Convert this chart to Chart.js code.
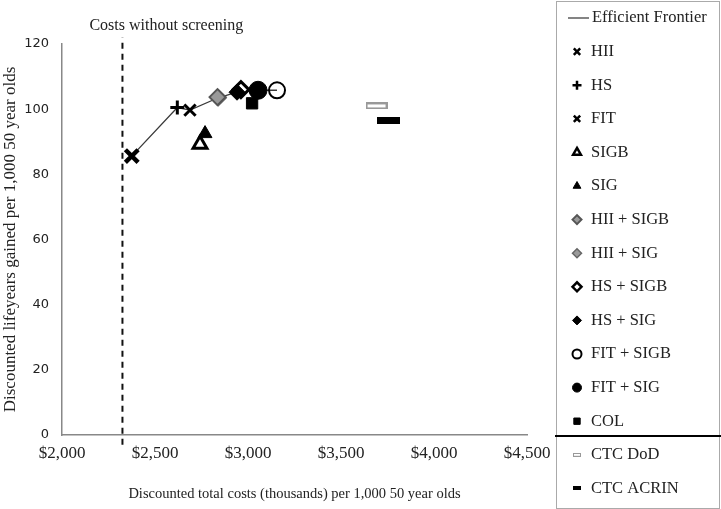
<!DOCTYPE html>
<html>
<head>
<meta charset="utf-8">
<script src="https://cdn.jsdelivr.net/npm/chart.js@4/dist/chart.umd.min.js"></script>
<style>
  html, body { margin: 0; padding: 0; background: #fff; }
  #wrap { width: 721px; height: 509px; }
</style>
</head>
<body>
<div id="wrap"><canvas id="cea"></canvas></div>
<script>
// strategies, costs (thousands $) and discounted life-years gained per 1,000 50 year olds
const strategies = ['HII', 'HS', 'FIT', 'SIGB', 'SIG', 'HII + SIGB', 'HII + SIG', 'HS + SIGB', 'HS + SIG', 'FIT + SIGB', 'FIT + SIG', 'COL', 'CTC DoD', 'CTC ACRIN'];
const costs = [2375, 2620, 2688, 2742, 2769, 2836, 2840, 2962, 2941, 3156, 3054, 3022, 3691, 3758];
const lifeyears = [85.6, 100.5, 99.7, 89.2, 92.5, 103.7, 103.5, 106, 105.2, 105.8, 105.8, 101.8, 101, 96.5];

// efficient frontier (strategy names, in order)
const frontier = ['HII', 'HS', 'FIT', 'HII + SIG', 'HS + SIG', 'FIT + SIG', 'FIT + SIGB'];

const costsWithoutScreening = 2325;
const xTicks = [2000, 2500, 3000, 3500, 4000, 4500];
const yTicks = [0, 20, 40, 60, 80, 100, 120];

// little canvases for the CTC dash markers
function dashImg(w, h, fill, stroke) {
    const c = document.createElement('canvas');
    c.width = w; c.height = h;
    const g = c.getContext('2d');
    g.fillStyle = fill;
    g.fillRect(0, 0, w, h);
    if (stroke) {
        g.strokeStyle = stroke;
        g.lineWidth = 2;
        g.strokeRect(1, 1, w - 2, h - 2);
    }
    return c;
}

// order: lower = drawn on top
const markerStyle = {
    'HII':        { pointStyle: 'crossRot', radius: 9, bg: '#000', border: '#000', bw: 4.5, order: 1 },
    'HS':         { pointStyle: 'cross', radius: 7, bg: '#000', border: '#000', bw: 3, order: 2 },
    'FIT':        { pointStyle: 'crossRot', radius: 8, bg: '#000', border: '#000', bw: 3, order: 1 },
    'SIGB':       { pointStyle: 'triangle', radius: 8, bg: '#fff', border: '#000', bw: 3, order: 2 },
    'SIG':        { pointStyle: 'triangle', radius: 8, bg: '#000', border: '#000', bw: 1, order: 3 },
    'HII + SIGB': { pointStyle: 'rectRot', radius: 8, bg: '#999', border: '#555', bw: 2, order: 2 },
    'HII + SIG':  { pointStyle: 'rectRot', radius: 8, bg: '#9a9a9a', border: '#666', bw: 1.5, order: 3 },
    'HS + SIGB':  { pointStyle: 'rectRot', radius: 8, bg: '#fff', border: '#000', bw: 3, order: 5 },
    'HS + SIG':   { pointStyle: 'rectRot', radius: 8, bg: '#000', border: '#000', bw: 1, order: 4 },
    'FIT + SIGB': { pointStyle: 'circle', radius: 8, bg: 'rgba(255,255,255,0)', border: '#000', bw: 2, order: 2 },
    'FIT + SIG':  { pointStyle: 'circle', radius: 9, bg: '#000', border: '#000', bw: 1, order: 3 },
    'COL':        { pointStyle: 'rect', radius: 8, bg: '#000', border: '#000', bw: 1, order: 2 },
    'CTC DoD':    { pointStyle: dashImg(22, 7, '#fff', '#999'), radius: 8, bg: '#fff', border: '#999', bw: 1, order: 2 },
    'CTC ACRIN':  { pointStyle: dashImg(23, 7, '#000'), radius: 8, bg: '#000', border: '#000', bw: 1, order: 2 },
};

const pointSets = strategies.map((s, i) => {
    const m = markerStyle[s];
    return {
        label: s,
        data: [{ x: costs[i], y: lifeyears[i] }],
        pointStyle: m.pointStyle,
        pointRadius: m.radius,
        pointHoverRadius: m.radius,
        backgroundColor: m.bg,
        borderColor: m.border,
        pointBorderWidth: m.bw,
        clip: false,
        order: m.order,
    };
});
const frontierSet = {
    label: 'Efficient Frontier',
    type: 'line',
    data: frontier.map(s => ({ x: costs[strategies.indexOf(s)], y: lifeyears[strategies.indexOf(s)] })),
    borderColor: '#3a3a3a',
    borderWidth: 1.3,
    pointRadius: 0,
    fill: false,
    order: 20,
};
const noScreenSet = {
    label: 'Costs without screening',
    type: 'line',
    data: [{ x: costsWithoutScreening, y: -3 }, { x: costsWithoutScreening, y: 122 }],
    borderColor: '#111',
    borderWidth: 2,
    borderDash: [6, 5],
    pointRadius: 0,
    clip: false,
    order: 21,
};

const serif = '"Liberation Serif", "DejaVu Serif", serif';

const annotateAndLegend = {
    id: 'annotateAndLegend',
    afterDraw(chart) {
        const ctx = chart.ctx;
        const xs = chart.scales.x;
        const area = chart.chartArea;
        ctx.save();
        // label for the no-screening line
        ctx.fillStyle = '#222';
        ctx.font = '16px ' + serif;
        ctx.textBaseline = 'middle';
        ctx.textAlign = 'left';
        ctx.fillText('Costs without screening', xs.getPixelForValue(costsWithoutScreening) - 33, area.top - 18);

        // legend box on the right
        const L = 556, R = 720, T = 1, B = 508;
        ctx.strokeStyle = '#aaa';
        ctx.lineWidth = 1;
        ctx.strokeRect(L + 0.5, T + 0.5, R - L - 1, B - T);
        const rowH = 33.6;
        const y0 = 18;
        ctx.font = '16.5px ' + serif;
        ctx.fillStyle = '#222';
        // frontier entry
        ctx.strokeStyle = '#333';
        ctx.lineWidth = 1.2;
        ctx.beginPath();
        ctx.moveTo(568, y0); ctx.lineTo(589, y0);
        ctx.stroke();
        ctx.fillText('Efficient Frontier', 592, y0);
        strategies.forEach((s, i) => {
            const y = y0 + rowH * (i + 1);
            const m = markerStyle[s];
            const mx = 577;
            if (typeof m.pointStyle === 'string') {
                ctx.fillStyle = m.bg === 'rgba(255,255,255,0)' ? '#fff' : m.bg;
                ctx.strokeStyle = m.border;
                ctx.lineWidth = Math.min(m.bw, 2.5);
                Chart.helpers.drawPoint(ctx, { pointStyle: m.pointStyle, radius: 4.5, rotation: 0, borderWidth: ctx.lineWidth }, mx, y);
            } else {
                ctx.drawImage(m.pointStyle, mx - 4, y - 2, 8, 4);
            }
            ctx.fillStyle = '#222';
            ctx.fillText(s, 591, y);
        });
        // separator between the screening tests and CTC
        ctx.strokeStyle = '#000';
        ctx.lineWidth = 2;
        ctx.beginPath();
        ctx.moveTo(555, 436); ctx.lineTo(721, 436);
        ctx.stroke();
        ctx.restore();
    }
};

const ctx = document.getElementById('cea').getContext('2d');
const chart = new Chart(ctx, {
    type: 'scatter',
    data: { datasets: [noScreenSet, frontierSet, ...pointSets] },
    options: {
        responsive: true,
        maintainAspectRatio: false,
        animation: false,
        devicePixelRatio: 1,
        layout: { padding: { left: 0, right: 194, top: 44, bottom: 0 } },
        plugins: { legend: { display: false }, tooltip: { enabled: false } },
        scales: {
            x: {
                type: 'linear',
                min: 2000,
                max: 4500,
                afterBuildTicks: s => { s.ticks = xTicks.map(v => ({ value: v })); },
                afterFit: s => { s.height = 74; },
                grid: { display: false, drawTicks: true, tickLength: 5, tickColor: '#888' },
                border: { color: '#888', width: 1.5 },
                ticks: {
                    color: '#222',
                    font: { family: serif, size: 17 },
                    padding: 3,
                    maxRotation: 0,
                    callback: v => '$' + v.toLocaleString('en-US'),
                },
                title: {
                    display: true,
                    text: 'Discounted total costs (thousands) per 1,000 50 year olds',
                    color: '#222',
                    font: { family: serif, size: 14.5 },
                    padding: { top: 0, bottom: 6 },
                },
            },
            y: {
                min: 0,
                max: 120,
                afterBuildTicks: s => { s.ticks = yTicks.map(v => ({ value: v })); },
                afterFit: s => { s.width = 62; },
                grid: { display: false, drawTicks: true, tickLength: 5, tickColor: '#888' },
                border: { color: '#888', width: 1.5 },
                ticks: {
                    color: '#222',
                    font: { family: '"DejaVu Sans", sans-serif', size: 13 },
                    padding: 8,
                },
                title: {
                    display: true,
                    text: 'Discounted lifeyears gained per 1,000 50 year olds',
                    color: '#222',
                    font: { family: serif, size: 17 },
                    padding: { top: 0, bottom: 0 },
                },
            },
        },
    },
    plugins: [annotateAndLegend],
});
</script>
</body>
</html>
